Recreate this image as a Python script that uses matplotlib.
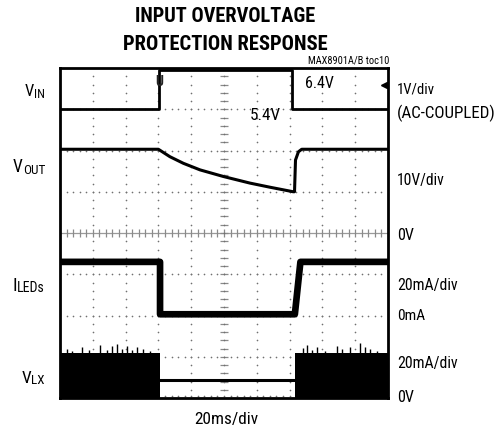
import matplotlib
matplotlib.use('Agg')
import matplotlib.pyplot as plt
from matplotlib import font_manager as fm
import numpy as np

# ---------------- data (in scope divisions: x 0..10, y 0..8) ----------------
vin_x = [0, 3.03, 3.03, 7.06, 7.06, 10]
vin_y = [7.0, 7.0, 7.95, 7.95, 7.0, 7.0]

vout_x = [0, 3.0, 3.35, 3.76, 4.27, 4.98, 5.79, 6.40, 7.11, 7.15, 7.18, 7.27, 7.37, 10]
vout_y = [6.03, 6.03, 5.85, 5.69, 5.53, 5.37, 5.21, 5.11, 5.0, 5.0, 5.77, 5.97, 6.03, 6.03]

iled_x = [0, 3.05, 3.05, 7.16, 7.33, 10]
iled_y = [3.3, 3.3, 2.03, 2.03, 3.3, 3.3]

vlx_on_left = (0, 3.05)
vlx_on_right = (7.15, 10)
vlx_on_level = 1.09
vlx_off_x = [3.05, 7.15]
vlx_off_level = 0.44

spike_x = [0.2, 0.36, 0.66, 0.89, 1.22, 1.42, 1.58, 1.73, 1.88, 2.03, 2.19, 2.34, 2.54, 2.74,
           7.42, 7.52, 7.67, 7.83, 8.08, 8.44, 8.59, 8.84, 9.15, 9.30, 9.45, 9.66]
spike_y = [1.20, 1.15, 1.24, 1.17, 1.28, 1.16, 1.25, 1.30, 1.18, 1.26, 1.16, 1.24, 1.20, 1.14,
           1.21, 1.28, 1.17, 1.24, 1.15, 1.27, 1.18, 1.24, 1.33, 1.24, 1.19, 1.15]

trig_x, trig_y = 3.03, 7.65
lvl_x, lvl_y = 9.88, 7.59

# (main, subscript, baseline px, target width px)
left_labels = [("V", "IN", 96, 20), ("V", "OUT", 172, 32), ("I", "LEDs", 291, 32), ("V", "LX", 383, 23)]
# (text, baseline px, target width px)
right_labels = [("1V/div", 93, 38), ("(AC-COUPLED)", 118, 99), ("10V/div", 185, 48), ("0V", 240, 17),
                ("20mA/div", 290, 61), ("0mA", 320, 28), ("20mA/div", 368, 61), ("0V", 402, 17)]

# ---------------- fonts ----------------
def pick_font():
    names = {f.name for f in fm.fontManager.ttflist}
    for n in ['Liberation Sans Narrow', 'Roboto Condensed', 'DejaVu Sans Condensed',
              'Open Sans Condensed', 'Noto Sans Condensed', 'Arial Narrow']:
        if n in names:
            return dict(family=n)
    for f in fm.fontManager.ttflist:
        st = f.stretch
        cond = (isinstance(st, str) and 'condensed' in st) or (isinstance(st, (int, float)) and st < 500)
        if cond and f.name in ('DejaVu Sans', 'Noto Sans', 'Open Sans', 'Roboto', 'Liberation Sans'):
            return dict(family=f.name, stretch=st)
    if 'Roboto' in names:
        return dict(family='Roboto')
    return dict(family='Liberation Sans')

FONT = pick_font()

W, H = 500, 430
fig = plt.figure(figsize=(W / 100, H / 100), dpi=100)
fig.patch.set_facecolor('white')
ax = fig.add_axes([60 / W, 1 - 398 / H, 328 / W, 330 / H])
ax.set_xlim(0, 10)
ax.set_ylim(0, 8)
ax.set_xticks([])
ax.set_yticks([])
for s in ax.spines.values():
    s.set_linewidth(2.0)
    s.set_color('black')

# graticule
gc = '#707070'
ys_minor = np.arange(1, 40) / 5
xs_minor = np.arange(1, 50) / 5
for gx in [1, 2, 3, 4, 6, 7, 8, 9]:
    ax.plot(np.full(ys_minor.size, gx), ys_minor, ls='none', marker='o', ms=1.2, color=gc, mew=0, zorder=1)
for gy in [1, 2, 3, 5, 6, 7]:
    ax.plot(xs_minor, np.full(xs_minor.size, gy), ls='none', marker='o', ms=1.2, color=gc, mew=0, zorder=1)
ax.plot(xs_minor, np.full(xs_minor.size, 0.06), ls='none', marker='o', ms=1.2, color=gc, mew=0, zorder=1)
ax.axhline(4, color='#9a9a9a', lw=0.9, zorder=1)
ax.plot(xs_minor, np.full(xs_minor.size, 4), ls='none', marker='|', ms=6, mew=0.9, color='#8a8a8a', zorder=1)
ax.plot(np.full(ys_minor.size, 5), ys_minor, ls='none', marker='_', ms=6, mew=0.9, color='#8a8a8a', zorder=1)
ax.plot(np.full(ys_minor.size, 5), ys_minor, ls='none', marker='o', ms=1.2, color=gc, mew=0, zorder=1)

# traces
ax.plot(vin_x, vin_y, color='black', lw=2.0, zorder=3)
ax.plot(vout_x, vout_y, color='black', lw=2.2, zorder=3)
ax.plot(iled_x, iled_y, color='black', lw=4.8, zorder=3)
ax.fill_between(vlx_on_left, 0, vlx_on_level, color='black', lw=0, zorder=3)
ax.fill_between(vlx_on_right, 0, vlx_on_level, color='black', lw=0, zorder=3)
ax.plot(vlx_off_x, [vlx_off_level, vlx_off_level], color='black', lw=2.2, zorder=3)
ax.vlines(spike_x, vlx_on_level - 0.05, spike_y, color='black', lw=1.0, zorder=3)

ax.text(trig_x, trig_y, 'U', ha='center', va='center', fontsize=10, fontweight='bold',
        color='#222222', zorder=4, **FONT)
ax.plot([lvl_x], [lvl_y], marker='<', ms=5, color='black', zorder=4)

# ---------------- text ----------------
renderer = fig.canvas.get_renderer()

def ftext(x, y, s, size, ha='left', weight='normal', target=None):
    t = fig.text(x / W, 1 - y / H, s, size=size, ha=ha, va='baseline', fontweight=weight, **FONT)
    if target is not None:
        w = t.get_window_extent(renderer).width
        if w > 0:
            t.set_size(min(size * 1.15, size * target / w))
    return t

ftext(225, 22, 'INPUT OVERVOLTAGE', 14.5, ha='center', weight='bold', target=180)
ftext(225, 50, 'PROTECTION RESPONSE', 14.5, ha='center', weight='bold', target=204)
ftext(389, 63, 'MAX8901A/B toc10', 7.5, ha='right', target=81)

ftext(305, 88, '6.4V', 13.5, target=29)
ftext(250, 120, '5.4V', 13.5, target=31)
ftext(226, 424, '20ms/div', 13, ha='center', target=64)

for txt, yb, tw in right_labels:
    ftext(397, yb, txt, 13, target=tw)

for main, sub, yb, tw in left_labels:
    m0, s0 = 14.5, 11.0
    tm = fig.text(0, 0, main, size=m0, **FONT)
    tsb = fig.text(0, 0, sub, size=s0, **FONT)
    total = tm.get_window_extent(renderer).width + tsb.get_window_extent(renderer).width
    tm.remove()
    tsb.remove()
    k = min(1.1, tw / total) if total > 0 else 1.0
    ts = ftext(45, yb + 1.5, sub, s0 * k, ha='right')
    bb = ts.get_window_extent(renderer)
    ftext(bb.x0, yb, main, m0 * k, ha='right')

fig.savefig('out.png', dpi=100)
